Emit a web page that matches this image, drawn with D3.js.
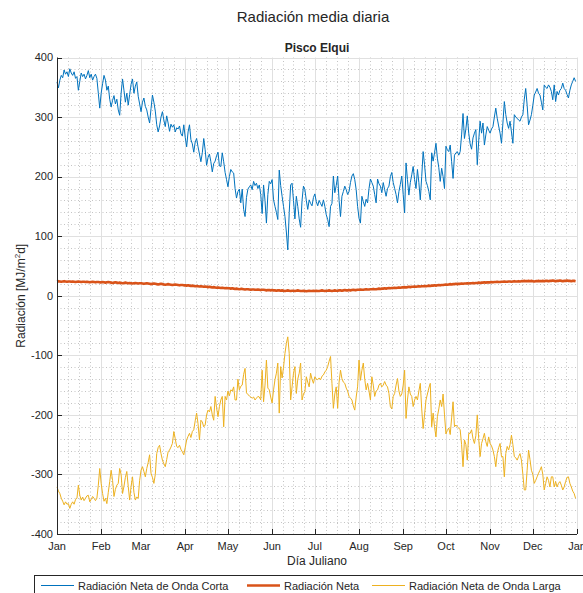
<!DOCTYPE html>
<html><head><meta charset="utf-8">
<script src="https://cdn.jsdelivr.net/npm/d3@7"></script>
<style>body{margin:0;background:#fff;overflow:hidden} text{font-family:"Liberation Sans",Arial,Helvetica,sans-serif;fill:#262626}</style>
</head><body><svg id="c" width="583" height="593"></svg>
<script>
const monthLabels = ["Jan","Feb","Mar","Apr","May","Jun","Jul","Aug","Sep","Oct","Nov","Dec","Jan"];
const yTicks = [-400,-300,-200,-100,0,100,200,300,400];
const seriesNames = ["Radiación Neta de Onda Corta","Radiación Neta","Radiación Neta de Onda Larga"];
const seriesColors = ["#0072BD","#D95319","#EDB120"];

const shortwave = [
359,349,362,370,366,379,372,376,368,381,
374,370,376,365,368,345,360,374,368,372,
364,370,378,366,372,362,368,372,365,340,
315,340,356,370,362,345,352,330,317,328,
336,322,330,312,303,340,364,345,325,340,
320,338,355,364,340,352,359,335,322,309,
325,332,318,312,300,290,314,337,325,310,
287,275,285,300,309,295,284,302,290,276,
288,283,287,275,282,280,285,272,268,287,
266,250,275,287,262,255,241,258,264,250,
238,225,240,264,245,219,232,238,225,208,
222,226,235,241,218,217,240,225,207,195,
183,200,212,208,206,180,164,175,179,156,
179,145,133,165,179,183,186,178,192,185,
189,180,186,170,138,186,160,122,170,192,
188,195,161,150,140,128,211,185,167,150,
133,107,77,140,186,189,160,129,167,150,
129,115,160,184,178,160,145,161,155,151,
165,171,158,151,160,155,150,161,150,136,
128,116,150,155,201,173,185,201,160,133,
167,175,184,178,170,175,190,201,205,195,
178,150,130,122,167,158,150,162,156,180,
196,190,184,170,156,196,188,184,173,190,
178,167,180,184,200,207,190,180,170,156,
175,187,201,170,139,223,195,169,190,203,
217,195,180,212,190,161,200,242,220,192,
185,175,161,240,226,240,256,231,215,192,
214,200,180,251,245,242,253,225,197,236,
240,242,236,242,270,306,264,280,302,273,
255,246,265,273,279,220,260,293,273,290,
253,270,284,278,273,280,284,300,315,298,
285,273,256,290,326,304,290,281,293,275,
256,304,300,298,295,293,300,304,330,348,
320,287,295,304,320,337,342,348,340,337,
325,312,354,350,348,354,350,343,329,354,
326,343,337,345,348,357,348,345,338,332,
345,354,360,366,360];

const netRadiation = [
24,24.5,24,23.5,24,24.5,24,23.5,24,24,23.5,24,23.5,23,23.5,24,23.5,23,23.5,23.5,23,23.5,23,22.5,23,23.5,23,22.5,23,23,22.5,
22.5,23,22.5,22,22.5,23,22.5,22,21.5,22,22.5,22,21.5,22,21.5,21,21.5,22,21.5,21,21.5,21,20.5,21,21.5,21,20.5,21,
21,20.5,20,20.5,21,20.5,20,19.5,20,20.5,20,19.5,19,19.5,20,19.5,19,18.5,19,19.5,19,18.5,18,18.5,19,18.5,18,17.5,18,18,17.5,
17.5,17,17.5,17,16.5,17,16.5,16,16.5,16,15.5,16,15.5,15,15.5,15,14.5,15,14.5,14,14.5,14,13.5,14,13.5,13,13.5,13,12.5,13,
12.5,12.5,12,12.5,12,11.5,12,11.5,11,11.5,11.5,11,10.5,11,11,10.5,10,10.5,10.5,10,10,10.5,10,9.5,10,10,9.5,9,9.5,9.5,9,
9.5,9,9,8.5,9,9,8.5,9,8.5,8,8.5,9,8.5,8,8.5,8.5,8,8.5,9,8.5,8,8,8.5,8,7.5,8,8.5,8,8,8.5,
8,8.5,8,8,8.5,9,8.5,8,8.5,8.5,9,8.5,8,8.5,9,8.5,8.5,9,9,8.5,9,9.5,9,9,9.5,9,9.5,10,9.5,9.5,10,
10,10.5,10,10,10.5,11,10.5,10.5,11,11,11.5,11,11,11.5,12,11.5,12,12,12.5,12,12.5,13,12.5,13,13,13.5,13,13.5,14,13.5,14,
14,14.5,14,14.5,15,14.5,15,15,15.5,15,15.5,16,15.5,16,16,16.5,16,16.5,17,16.5,17,17,17.5,17,17.5,18,17.5,18,18,18.5,
19,18.5,19,19.5,19,19.5,19.5,20,19.5,20,20,20.5,20,20.5,20.5,21,20.5,21,21,21.5,21,21.5,21.5,22,21.5,22,22,22.5,22,22.5,22.5,
22.5,23,22.5,23,23,23.5,23,23,23.5,23.5,24,23.5,23.5,24,24,23.5,24,24.5,24,24,24.5,24,24.5,24.5,25,24.5,24.5,25,24.5,25,
24.5,24,24.5,24.5,25,24.5,24.5,25,24.5,25,25,24.5,25,25,25.5,25,24.5,25,25,25.5,25,24.5,25,25,25.5,25,25,24.5,25,25,24.5];

const longwave = [
-321,-328,-332,-340,-345,-351,-346,-350,-349,-357,
-350,-346,-350,-342,-340,-318,-335,-343,-338,-344,
-340,-336,-335,-346,-342,-337,-340,-344,-340,-318,
-290,-315,-332,-345,-340,-349,-330,-312,-293,-310,
-337,-325,-318,-315,-290,-300,-332,-320,-305,-295,
-320,-343,-320,-304,-330,-343,-338,-340,-310,-293,
-287,-295,-304,-290,-280,-267,-298,-305,-315,-300,
-265,-255,-251,-265,-276,-282,-287,-275,-262,-259,
-254,-248,-228,-240,-253,-255,-251,-258,-262,-267,
-255,-242,-236,-231,-238,-228,-225,-210,-197,-215,
-242,-209,-212,-220,-217,-200,-192,-195,-186,-200,
-209,-169,-188,-203,-186,-175,-169,-220,-169,-175,
-160,-168,-158,-160,-153,-175,-175,-140,-158,-152,
-150,-132,-122,-163,-166,-168,-170,-172,-170,-175,
-172,-169,-170,-175,-125,-178,-150,-108,-155,-158,
-170,-180,-158,-141,-130,-113,-197,-119,-138,-120,
-97,-80,-69,-97,-175,-153,-130,-119,-164,-140,
-130,-113,-175,-165,-161,-136,-145,-153,-130,-140,
-147,-136,-140,-141,-138,-141,-135,-133,-128,-125,
-119,-110,-102,-147,-189,-165,-153,-189,-145,-125,
-139,-145,-147,-155,-160,-169,-172,-175,-185,-192,
-170,-153,-108,-142,-125,-113,-140,-158,-147,-160,
-175,-136,-150,-169,-160,-158,-150,-147,-153,-150,
-144,-150,-153,-164,-186,-190,-169,-164,-150,-139,
-160,-169,-165,-150,-125,-206,-175,-153,-165,-169,
-186,-175,-169,-175,-160,-147,-190,-223,-200,-175,
-165,-155,-147,-220,-197,-220,-237,-203,-190,-175,
-186,-165,-200,-232,-226,-222,-233,-205,-178,-220,
-217,-220,-222,-225,-250,-287,-242,-250,-276,-231,
-231,-225,-240,-248,-235,-200,-240,-270,-248,-240,
-231,-245,-253,-237,-248,-252,-259,-270,-287,-265,
-255,-248,-270,-270,-304,-265,-253,-259,-250,-234,
-250,-270,-272,-276,-270,-265,-276,-300,-326,-326,
-293,-259,-275,-293,-300,-315,-310,-304,-298,-293,
-287,-300,-326,-315,-304,-310,-321,-304,-304,-321,
-312,-321,-315,-312,-318,-326,-321,-312,-305,-304,
-315,-321,-328,-332,-340];

const W = 583, H = 593;
const L = 57, R = 577, T = 57.5, B = 534;
const svg = d3.select("#c");
svg.append("rect").attr("width",W).attr("height",H).attr("fill","#fff");

const start = new Date(Date.UTC(2023,0,1)), end = new Date(Date.UTC(2024,0,1));
const dayDate = i => d3.utcDay.offset(start, i);
const x = d3.scaleUtc().domain([start,end]).range([L,R]);
const y = d3.scaleLinear().domain([yTicks[0], yTicks[yTicks.length-1]]).range([B,T]);
const monthStarts = d3.utcMonth.range(start, d3.utcDay.offset(end,1));

const g = svg.append("g");
// minor grid (dotted)
const minorY = d3.range(yTicks[0], yTicks[yTicks.length-1], 20).filter(v => v % 100 !== 0);
g.selectAll(".mgy").data(minorY).join("line")
  .attr("x1",L).attr("x2",R).attr("y1",d=>Math.round(y(d))+0.5).attr("y2",d=>Math.round(y(d))+0.5)
  .attr("stroke","#c4c4c4").attr("stroke-width",1).attr("stroke-dasharray","1,2.5");
const minorX = [];
for (let k=0;k<monthStarts.length-1;k++){
  const a = x(monthStarts[k]), b = x(monthStarts[k+1]);
  for (let q=1;q<4;q++) minorX.push(a+(b-a)*q/4);
}
g.selectAll(".mgx").data(minorX).join("line")
  .attr("x1",d=>Math.round(d)+0.5).attr("x2",d=>Math.round(d)+0.5).attr("y1",T).attr("y2",B)
  .attr("stroke","#c4c4c4").attr("stroke-width",1).attr("stroke-dasharray","1,2.5");
// major grid
g.selectAll(".gy").data(yTicks).join("line")
  .attr("x1",L).attr("x2",R).attr("y1",d=>Math.round(y(d))+0.5).attr("y2",d=>Math.round(y(d))+0.5)
  .attr("stroke","#e0e0e0").attr("stroke-width",1);
g.selectAll(".gx").data(monthStarts).join("line")
  .attr("x1",d=>Math.round(x(d))+0.5).attr("x2",d=>Math.round(x(d))+0.5).attr("y1",T).attr("y2",B)
  .attr("stroke","#e0e0e0").attr("stroke-width",1);

// series
const series = [shortwave, netRadiation, longwave];
const widths = [1, 2.6, 1];
const line = d3.line().x((d,i)=>x(dayDate(i))).y(d=>y(d));
series.forEach((s,k)=>{
  svg.append("path").datum(s).attr("d",line).attr("fill","none")
    .attr("stroke",seriesColors[k]).attr("stroke-width",widths[k]).attr("stroke-linejoin","round");
});

// axes
const axG = svg.append("g");
axG.append("line").attr("x1",L+0.5).attr("x2",L+0.5).attr("y1",T).attr("y2",B+0.5).attr("stroke","#262626");
axG.append("line").attr("x1",L).attr("x2",R).attr("y1",Math.round(B)+0.5).attr("y2",Math.round(B)+0.5).attr("stroke","#262626");
axG.selectAll(".ty").data(yTicks).join("line")
  .attr("x1",L).attr("x2",L+5).attr("y1",d=>Math.round(y(d))+0.5).attr("y2",d=>Math.round(y(d))+0.5).attr("stroke","#262626");
axG.selectAll(".tx").data(monthStarts).join("line")
  .attr("x1",d=>Math.round(x(d))+0.5).attr("x2",d=>Math.round(x(d))+0.5).attr("y1",B).attr("y2",B-5).attr("stroke","#262626");
axG.selectAll(".ly").data(yTicks).join("text")
  .attr("x",L-4).attr("y",d=>y(d)).attr("dy","0.35em").attr("text-anchor","end")
  .attr("font-size",11).text(d=>d);
axG.selectAll(".lx").data(monthStarts).join("text")
  .attr("x",d=>x(d)).attr("y",B+16).attr("text-anchor","middle")
  .attr("font-size",11).text((d,i)=>monthLabels[i]);

// labels and titles
svg.append("text").attr("x",(L+R)/2).attr("y",B+31).attr("text-anchor","middle").attr("font-size",12).text("Día Juliano");
const yl = svg.append("text").attr("transform",`translate(25,${(T+B)/2}) rotate(-90)`).attr("text-anchor","middle").attr("font-size",12);
yl.append("tspan").text("Radiación [MJ/m");
yl.append("tspan").attr("font-size",8).attr("dy",-5).text("2");
yl.append("tspan").attr("dy",5).text("d]");
svg.append("text").attr("x",313).attr("y",22).attr("text-anchor","middle").attr("font-size",15).text("Radiación media diaria");
svg.append("text").attr("x",(L+R)/2).attr("y",52).attr("text-anchor","middle").attr("font-size",12).attr("font-weight","bold").attr("fill","#000").text("Pisco Elqui");

// legend
const lg = svg.append("g");
lg.append("rect").attr("x",34.5).attr("y",575.5).attr("width",580).attr("height",40).attr("fill","#fff").attr("stroke","#262626");
const lx = [41, 247, 372];
seriesNames.forEach((n,k)=>{
  lg.append("line").attr("x1",lx[k]).attr("x2",lx[k]+33).attr("y1",585.5).attr("y2",585.5)
    .attr("stroke",seriesColors[k]).attr("stroke-width",widths[k]);
  lg.append("text").attr("x",lx[k]+37).attr("y",589.5).attr("font-size",11).text(n);
});
</script></body></html>
